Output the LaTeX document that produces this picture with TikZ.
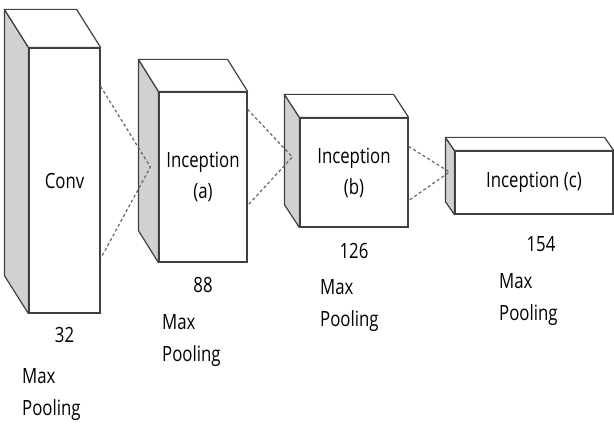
\documentclass[tikz,border=0pt]{standalone}
\usepackage{fontspec}
\setmainfont{Open Sans}[FakeStretch=0.8]
\usepackage{tikz}
\usetikzlibrary{calc,positioning}

\begin{document}
\begin{tikzpicture}[x=1pt,y=1pt,
    front/.style={draw=black!75, fill=white, line width=1.2pt, inner sep=0pt},
    side/.style={draw=black!75, fill=black!18, line width=1.2pt, line join=round},
    top/.style={draw=black!75, fill=white, line width=1.2pt, line join=round},
    link/.style={draw=black!60, dashed, dash pattern=on 3pt off 2.5pt, line width=1.2pt},
    txt/.style={font=\fontsize{21}{31}\selectfont, align=center, text=black},
    note/.style={font=\fontsize{21}{32}\selectfont, align=left, inner sep=0pt, anchor=north west, text=black}
    ]
    \useasboundingbox (0,0) rectangle (614,424);

    % front faces of the layers
    \node[front, txt, minimum width=71pt, minimum height=265pt] (conv) at (64.5,243.5) {Conv};
    \node[front, txt, minimum width=88pt, minimum height=170pt] (inca) at (203,247) {Inception\\(a)};
    \node[front, txt, minimum width=108pt, minimum height=109pt] (incb) at (354,251.5) {Inception\\(b)};
    \node[front, txt, minimum width=158pt, minimum height=63pt] (incc) at (534,241.5) {Inception (c)};

    % side and top faces
    \foreach \n/\dx/\dy in {conv/-24/38, inca/-20/32, incb/-15/23, incc/-9/13} {
        \draw[side] (\n.north west) -- ++(\dx,\dy) -- ($(\n.south west)+(\dx,\dy)$) -- (\n.south west) -- cycle;
        \draw[top] (\n.north west) -- ++(\dx,\dy) -- ($(\n.north east)+(\dx,\dy)$) -- (\n.north east) -- cycle;
    }

    % where the dashed lines meet
    \coordinate (m1) at ($(inca.west)+(-8,10)$);
    \coordinate (m2) at ($(incb.west)+(-7,15.5)$);
    \coordinate (m3) at ($(incc.west)+(-5,10.5)$);

    \draw[link] ($(conv.north east)+(0,-39)$) -- (m1) -- ($(conv.south east)+(0,55)$);
    \draw[link] ($(inca.north east)+(0,-18)$) -- (m2) -- ($(inca.south east)+(0,57)$);
    \draw[link] ($(incb.north east)+(0,-29)$) -- (m3) -- ($(incb.south east)+(0,27)$);

    % sizes
    \node[txt, inner sep=0pt, below=13pt of conv] (n32) {32};
    \node[txt, inner sep=0pt, below=14.5pt of inca] (n88) {88};
    \node[txt, inner sep=0pt, below=15.5pt of incb] (n126) {126};
    \node[txt, inner sep=0pt, below=21.5pt of incc, xshift=7pt] (n154) {154};

    % pooling notes
    \node[note] (p1) at (22,56) {Max\\Pooling};
    \node[note] (p2) at (162,110) {Max\\Pooling};
    \node[note] (p3) at (320,145) {Max\\Pooling};
    \node[note] (p4) at (499,151) {Max\\Pooling};
\end{tikzpicture}
\end{document}
